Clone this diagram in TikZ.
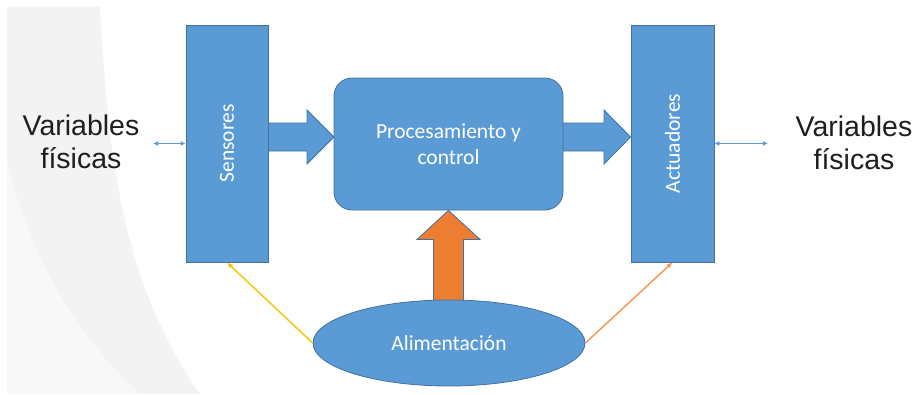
\documentclass[tikz,border=0pt]{standalone}
\usepackage{fontspec}
\setmainfont{Liberation Sans}
\newfontfamily\boxfont{Carlito}
\usetikzlibrary{positioning, arrows.meta, shapes.geometric, calc}
\definecolor{officeBlue}{RGB}{91, 155, 213}
\definecolor{officeEdge}{RGB}{65, 113, 156}
\definecolor{powerOrange}{RGB}{237, 125, 49}
\definecolor{lineYellow}{RGB}{255, 192, 0}
\definecolor{lineOrange}{RGB}{244, 149, 80}
\definecolor{swooshGray}{RGB}{243, 243, 243}
\definecolor{swooshLight}{RGB}{248, 248, 248}
\definecolor{varText}{RGB}{30, 30, 30}
\tikzset{
  block/.style={
    draw=officeEdge,
    fill=officeBlue,
    line width=0.8pt,
    inner sep=0pt,
    text=white,
    font=\boxfont\fontsize{21.5}{26}\selectfont
  },
  blockarrow/.style={
    draw=officeEdge,
    fill=officeBlue,
    line width=0.8pt
  },
  powerarrow/.style={
    draw=officeEdge,
    fill=powerOrange,
    line width=0.8pt
  },
  feed/.style={
    line width=1.4pt,
    -{Latex[length=6pt,width=5pt]}
  },
  exchange/.style={
    draw=officeBlue,
    line width=1.1pt,
    {Latex[length=5pt,width=5pt]}-{Latex[length=5pt,width=5pt]}
  },
  varlabel/.style={
    align=center,
    text=varText,
    font=\fontsize{28.5}{33}\selectfont
  }
}

\begin{document}
\begin{tikzpicture}[x=1pt, y=-1pt]
      \useasboundingbox (0,0) rectangle (922,394);

      % background swoosh
      \fill[swooshGray] (7,7) -- (100,7) .. controls (108,150) and (120,280) .. (200,394) -- (7,394) -- cycle;
      \fill[swooshLight] (7,160) .. controls (30,260) and (80,340) .. (140,394) -- (7,394) -- cycle;

      % blocks
      \node[block, minimum width=82pt, minimum height=237pt] (sens) at (227,143.5) {\rotatebox{90}{Sensores}};
      \node[block, minimum width=83pt, minimum height=237pt] (act) at (672.5,143.5) {\rotatebox{90}{Actuadores}};

      % block arrows
      \draw[blockarrow] (sens.east |- 0,123) -- (307,123) -- (307,110) -- (334,137) -- (307,164) -- (307,151) -- (sens.east |- 0,151) -- cycle;
      \draw[blockarrow] (560,123) -- (604,123) -- (604,110) -- (act.west |- 0,137) -- (604,164) -- (604,151) -- (560,151) -- cycle;

      \node[block, rounded corners=18pt, minimum width=229pt, minimum height=132pt, align=center] (proc) at (448.5,144) {Procesamiento y\\control};

      \draw[powerarrow] ($(proc.south)+(-15,95)$) -- ($(proc.south)+(-15,29)$) -- ($(proc.south)+(-31.5,29)$) -- (proc.south) -- ($(proc.south)+(31.5,29)$) -- ($(proc.south)+(15,29)$) -- ($(proc.south)+(15,95)$) -- cycle;

      \node[block, ellipse, minimum width=272pt, minimum height=86pt] (ali) at (449,343) {Alimentación};

      % feeds
      \draw[feed, lineYellow] (ali.west) -- (sens.south);
      \draw[feed, lineOrange] (ali.east) -- (act.south);

      % physical variables
      \node[varlabel] (vin) at (81,142) {Variables\\físicas};
      \node[varlabel] (vout) at (854,143) {Variables\\físicas};
      \coordinate (pin) at (153,143.5);
      \coordinate (pout) at (768,143.5);
      \draw[exchange] (pin) -- (sens.west);
      \draw[exchange] (act.east) -- (pout);
    \end{tikzpicture}
\end{document}
